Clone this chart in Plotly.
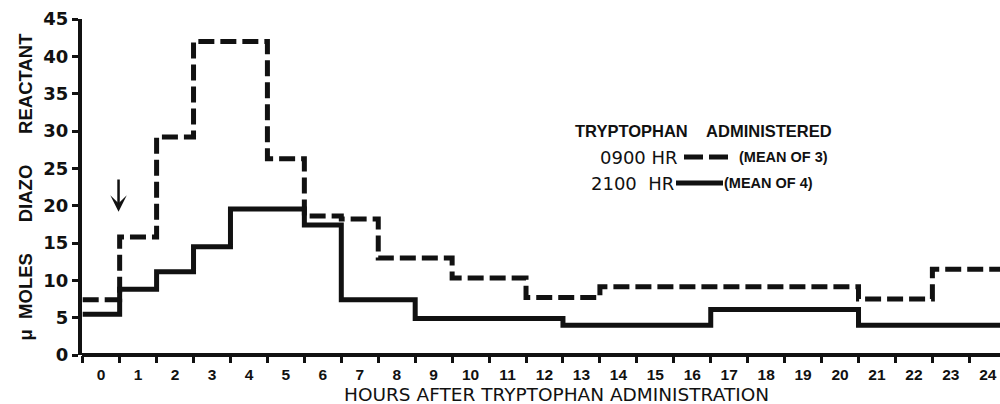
import plotly.graph_objects as go

# ---------------- data ----------------
hours = list(range(25))
hour_labels = [str(h) for h in hours]
y_tick_values = [0, 5, 10, 15, 20, 25, 30, 35, 40, 45]

# Tryptophan administered at 0900 HR (mean of 3), hourly values
diazo_0900 = [7.4, 15.8, 29.2, 42.0, 42.0, 26.3, 18.6, 18.2, 13.0, 13.0,
              10.3, 10.3, 7.7, 7.7, 9.15, 9.15, 9.15, 9.15, 9.15, 9.15,
              9.15, 7.5, 7.5, 11.5, 11.5]
# Tryptophan administered at 2100 HR (mean of 4), hourly values
diazo_2100 = [5.45, 8.8, 11.15, 14.5, 19.55, 19.55, 17.4, 7.4, 7.4, 4.9,
              4.9, 4.9, 4.9, 4.0, 4.0, 4.0, 4.0, 6.1, 6.1, 6.1,
              6.1, 4.0, 4.0, 4.0, 4.0]

# administration marker (arrow)
arrow_hour = 0.47
arrow_tail = 23.7
arrow_head = 19.2

INK = "#111111"


def step_series(hrs, vals):
    xs = [h - 0.5 for h in hrs] + [hrs[-1] + 0.5]
    ys = list(vals) + [vals[-1]]
    return xs, ys


hour_edges = [h - 0.5 for h in hours]

x_d, y_d = step_series(hours, diazo_0900)
x_s, y_s = step_series(hours, diazo_2100)

fig = go.Figure()
fig.add_trace(go.Scatter(
    x=x_d, y=y_d, mode="lines", name="0900 HR (MEAN OF 3)",
    line=dict(color=INK, width=5, dash="16px,6px", shape="hv"),
    xaxis="x", yaxis="y", showlegend=False, hoverinfo="skip"))
fig.add_trace(go.Scatter(
    x=x_s, y=y_s, mode="lines", name="2100 HR (MEAN OF 4)",
    line=dict(color=INK, width=5, shape="hv"),
    xaxis="x2", yaxis="y", showlegend=False, hoverinfo="skip"))

x_range = [-0.519, 24.33]

# plot area in pixels: x 82..1000, y 19..355
def px(xp):
    return (xp - 82) / 918.0


def py(yp):
    return (355 - yp) / 336.0


nb = "\u00a0"
legend_font_big = dict(family="Liberation Sans, Arial, sans-serif", size=16.5,
                       color=INK, weight="bold")
hr_font = dict(family="DejaVu Sans, sans-serif", size=18, color=INK)
mean_font = dict(family="Liberation Sans, Arial, sans-serif", size=14.5,
                 color=INK, weight="bold")

annotations = [
    # arrow marking administration
    dict(x=arrow_hour, y=arrow_head, ax=arrow_hour, ay=arrow_tail,
         xref="x", yref="y", axref="x", ayref="y", text="",
         showarrow=True, arrowhead=3, arrowwidth=2.5, arrowsize=1.1,
         arrowcolor=INK, standoff=0),
    # y axis title
    dict(x=px(25), y=py(186.5), xref="paper", yref="paper",
         text="<b>\u03bc" + nb * 2 + "MOLES" + nb * 6 + "DIAZO" + nb * 6 + "REACTANT</b>",
         textangle=-90, showarrow=False, xanchor="center", yanchor="middle",
         font=dict(family="Liberation Sans, Arial, sans-serif",
                   size=18.5, color=INK)),
    # x axis title
    dict(x=px(556.7), y=py(394), xref="paper", yref="paper",
         text="HOURS AFTER TRYPTOPHAN ADMINISTRATION",
         showarrow=False, xanchor="center", yanchor="middle",
         font=dict(family="DejaVu Sans, sans-serif", size=18.5, color=INK)),
    # legend block
    dict(x=px(573), y=py(131), xref="paper", yref="paper",
         text="TRYPTOPHAN" + nb * 4 + "ADMINISTERED", showarrow=False,
         xanchor="left", yanchor="middle", font=legend_font_big),
    dict(x=px(680), y=py(157), xref="paper", yref="paper",
         text="0900" + nb + "HR", showarrow=False,
         xanchor="right", yanchor="middle", font=hr_font),
    dict(x=px(737), y=py(157), xref="paper", yref="paper",
         text="(MEAN OF 3)", showarrow=False,
         xanchor="left", yanchor="middle", font=mean_font),
    dict(x=px(676), y=py(183), xref="paper", yref="paper",
         text="2100" + nb * 2 + "HR", showarrow=False,
         xanchor="right", yanchor="middle", font=hr_font),
    dict(x=px(722), y=py(183), xref="paper", yref="paper",
         text="(MEAN OF 4)", showarrow=False,
         xanchor="left", yanchor="middle", font=mean_font),
]

shapes = [
    dict(type="line", xref="paper", yref="paper",
         x0=px(684), x1=px(732), y0=py(157), y1=py(157),
         line=dict(color=INK, width=5, dash="19px,6px")),
    dict(type="line", xref="paper", yref="paper",
         x0=px(676), x1=px(723), y0=py(183), y1=py(183),
         line=dict(color=INK, width=5)),
]

fig.update_layout(
    width=1000, height=404,
    margin=dict(l=82, r=0, t=19, b=49),
    paper_bgcolor="white", plot_bgcolor="white",
    showlegend=False,
    xaxis=dict(
        range=x_range, tickmode="array", tickvals=hour_edges,
        showticklabels=False, ticks="outside", ticklen=7, tickwidth=3,
        tickcolor=INK, showline=False,
        showgrid=False, zeroline=False, fixedrange=True),
    xaxis2=dict(
        range=x_range, overlaying="x", anchor="y", side="bottom",
        tickmode="array", tickvals=hours, ticktext=hour_labels,
        ticks="outside", ticklen=5, tickcolor="rgba(0,0,0,0)",
        tickfont=dict(family="Liberation Sans, Arial, sans-serif", size=15.5,
                      color=INK, weight="bold"),
        showline=False, showgrid=False, zeroline=False, fixedrange=True),
    yaxis=dict(
        range=[0, 45], tickmode="array", tickvals=y_tick_values,
        ticks="outside", ticklen=6, tickwidth=3, tickcolor=INK,
        showline=True, linewidth=4, linecolor=INK,
        zeroline=True, zerolinewidth=4, zerolinecolor=INK,
        tickfont=dict(family="DejaVu Sans, sans-serif", size=18,
                      color=INK, weight="bold"),
        showgrid=False, fixedrange=True),
    annotations=annotations,
    shapes=shapes,
)

fig.write_html(
    "out.html",
    config={"displayModeBar": False, "staticPlot": True},
    post_script="document.body.style.margin='0';document.body.style.padding='0';"
                "document.body.style.overflow='hidden';",
)
